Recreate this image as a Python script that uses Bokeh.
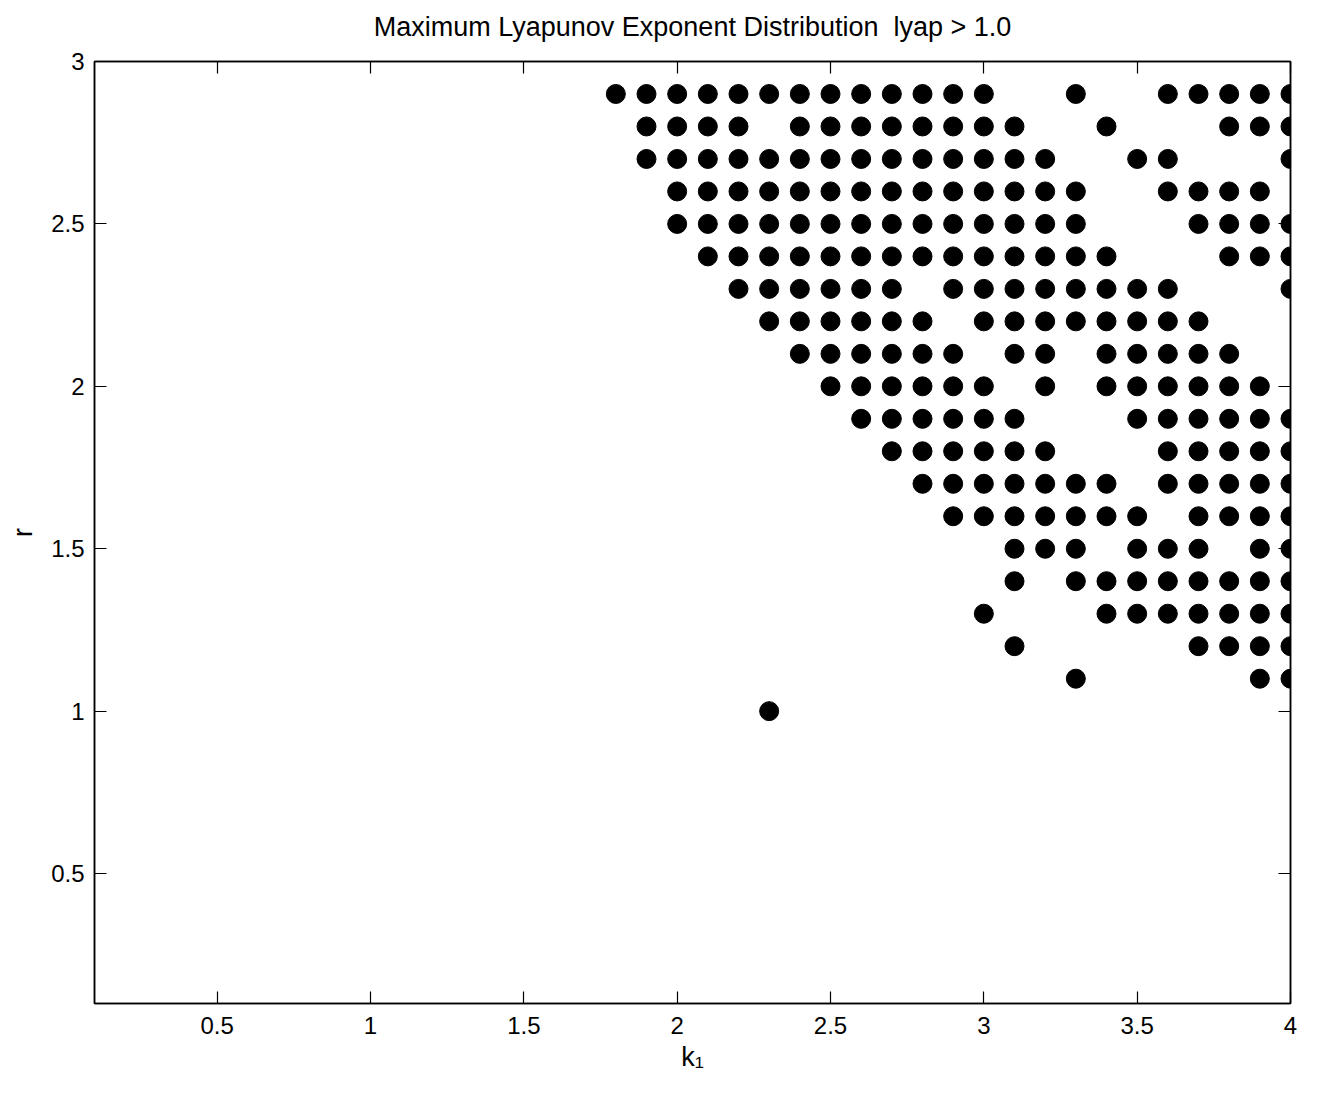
from bokeh.plotting import figure
from bokeh.models import FixedTicker, LinearAxis, ColumnDataSource, Range1d, CustomLabelingPolicy
from bokeh.embed import file_html
from bokeh.resources import INLINE

# grid values of k1 for each r row where lyap > 1.0
r_levels = [2.9, 2.8, 2.7, 2.6, 2.5, 2.4, 2.3, 2.2, 2.1, 2.0, 1.9, 1.8, 1.7, 1.6, 1.5, 1.4, 1.3, 1.2, 1.1, 1.0]
k1_by_row = [
    [1.8, 1.9, 2.0, 2.1, 2.2, 2.3, 2.4, 2.5, 2.6, 2.7, 2.8, 2.9, 3.0, 3.3, 3.6, 3.7, 3.8, 3.9, 4.0],
    [1.9, 2.0, 2.1, 2.2, 2.4, 2.5, 2.6, 2.7, 2.8, 2.9, 3.0, 3.1, 3.4, 3.8, 3.9, 4.0],
    [1.9, 2.0, 2.1, 2.2, 2.3, 2.4, 2.5, 2.6, 2.7, 2.8, 2.9, 3.0, 3.1, 3.2, 3.5, 3.6, 4.0],
    [2.0, 2.1, 2.2, 2.3, 2.4, 2.5, 2.6, 2.7, 2.8, 2.9, 3.0, 3.1, 3.2, 3.3, 3.6, 3.7, 3.8, 3.9],
    [2.0, 2.1, 2.2, 2.3, 2.4, 2.5, 2.6, 2.7, 2.8, 2.9, 3.0, 3.1, 3.2, 3.3, 3.7, 3.8, 3.9, 4.0],
    [2.1, 2.2, 2.3, 2.4, 2.5, 2.6, 2.7, 2.8, 2.9, 3.0, 3.1, 3.2, 3.3, 3.4, 3.8, 3.9, 4.0],
    [2.2, 2.3, 2.4, 2.5, 2.6, 2.7, 2.9, 3.0, 3.1, 3.2, 3.3, 3.4, 3.5, 3.6, 4.0],
    [2.3, 2.4, 2.5, 2.6, 2.7, 2.8, 3.0, 3.1, 3.2, 3.3, 3.4, 3.5, 3.6, 3.7],
    [2.4, 2.5, 2.6, 2.7, 2.8, 2.9, 3.1, 3.2, 3.4, 3.5, 3.6, 3.7, 3.8],
    [2.5, 2.6, 2.7, 2.8, 2.9, 3.0, 3.2, 3.4, 3.5, 3.6, 3.7, 3.8, 3.9],
    [2.6, 2.7, 2.8, 2.9, 3.0, 3.1, 3.5, 3.6, 3.7, 3.8, 3.9, 4.0],
    [2.7, 2.8, 2.9, 3.0, 3.1, 3.2, 3.6, 3.7, 3.8, 3.9, 4.0],
    [2.8, 2.9, 3.0, 3.1, 3.2, 3.3, 3.4, 3.6, 3.7, 3.8, 3.9, 4.0],
    [2.9, 3.0, 3.1, 3.2, 3.3, 3.4, 3.5, 3.7, 3.8, 3.9, 4.0],
    [3.1, 3.2, 3.3, 3.5, 3.6, 3.7, 3.9, 4.0],
    [3.1, 3.3, 3.4, 3.5, 3.6, 3.7, 3.8, 3.9, 4.0],
    [3.0, 3.4, 3.5, 3.6, 3.7, 3.8, 3.9, 4.0],
    [3.1, 3.7, 3.8, 3.9, 4.0],
    [3.3, 3.9, 4.0],
    [2.3],
]

x_ticks = [0.5, 1.0, 1.5, 2.0, 2.5, 3.0, 3.5, 4.0]
x_tick_labels = ["0.5", "1", "1.5", "2", "2.5", "3", "3.5", "4"]
y_ticks = [0.5, 1.0, 1.5, 2.0, 2.5, 3.0]
y_tick_labels = ["0.5", "1", "1.5", "2", "2.5", "3"]

title_text = "Maximum Lyapunov Exponent Distribution \u00a0lyap > 1.0"
x_label = "k\u2081"
y_label = "r"

xs, ys = [], []
for r, row in zip(r_levels, k1_by_row):
    for k in row:
        xs.append(k)
        ys.append(r)
src = ColumnDataSource(dict(k1=xs, r=ys))

FONT = "Liberation Sans"

p = figure(width=1326, height=1088, output_backend="svg", toolbar_location=None,
           x_range=Range1d(0.1, 4.0), y_range=Range1d(0.1, 3.0),
           min_border_left=94, min_border_right=36, min_border_top=61, min_border_bottom=85,
           x_axis_location=None, y_axis_location=None)
p.frame_width = 1196
p.frame_height = 942

p.title.text = title_text
p.title.align = "center"
p.title.text_font = FONT
p.title.text_font_style = "normal"
p.title.text_font_size = "27px"
p.title.text_color = "black"
p.title.standoff = 0

p.grid.visible = False
p.outline_line_color = "black"
p.outline_line_width = 1.5
p.background_fill_color = "white"
p.border_fill_color = "white"

def make_axis(ticks, labels, show_labels, axis_label=None, label_standoff=6):
    ax = LinearAxis(ticker=FixedTicker(ticks=ticks))
    ax.major_label_overrides = {t: l for t, l in zip(ticks, labels)}
    ax.major_tick_in = 12
    ax.major_tick_out = 0
    ax.minor_tick_line_color = None
    ax.axis_line_color = "black"
    ax.axis_line_width = 1.5
    ax.major_tick_line_color = "black"
    ax.major_tick_line_width = 1.2
    ax.major_label_text_font = FONT
    ax.major_label_text_font_size = "24px"
    ax.major_label_text_color = "black"
    ax.major_label_standoff = 12
    if not show_labels:
        ax.major_label_policy = CustomLabelingPolicy(code="return []")
        ax.major_label_standoff = 0
    if axis_label:
        ax.axis_label = axis_label
        ax.axis_label_text_font = FONT
        ax.axis_label_text_font_size = "27px"
        ax.axis_label_text_font_style = "normal"
        ax.axis_label_text_color = "black"
        ax.axis_label_standoff = label_standoff
    return ax

bottom_ax = make_axis(x_ticks, x_tick_labels, True, x_label, 5)
bottom_ax.major_label_standoff = 13
left_ax = make_axis(y_ticks, y_tick_labels, True, y_label, 10)
left_ax.major_label_standoff = 10
p.add_layout(bottom_ax, "below")
p.add_layout(left_ax, "left")
p.add_layout(make_axis(x_ticks, x_tick_labels, False), "above")
p.add_layout(make_axis(y_ticks, y_tick_labels, False), "right")

p.scatter("k1", "r", source=src, marker="circle", size=19,
          fill_color="black", line_color="black")

open("out.html", "w").write(file_html(p, INLINE))
